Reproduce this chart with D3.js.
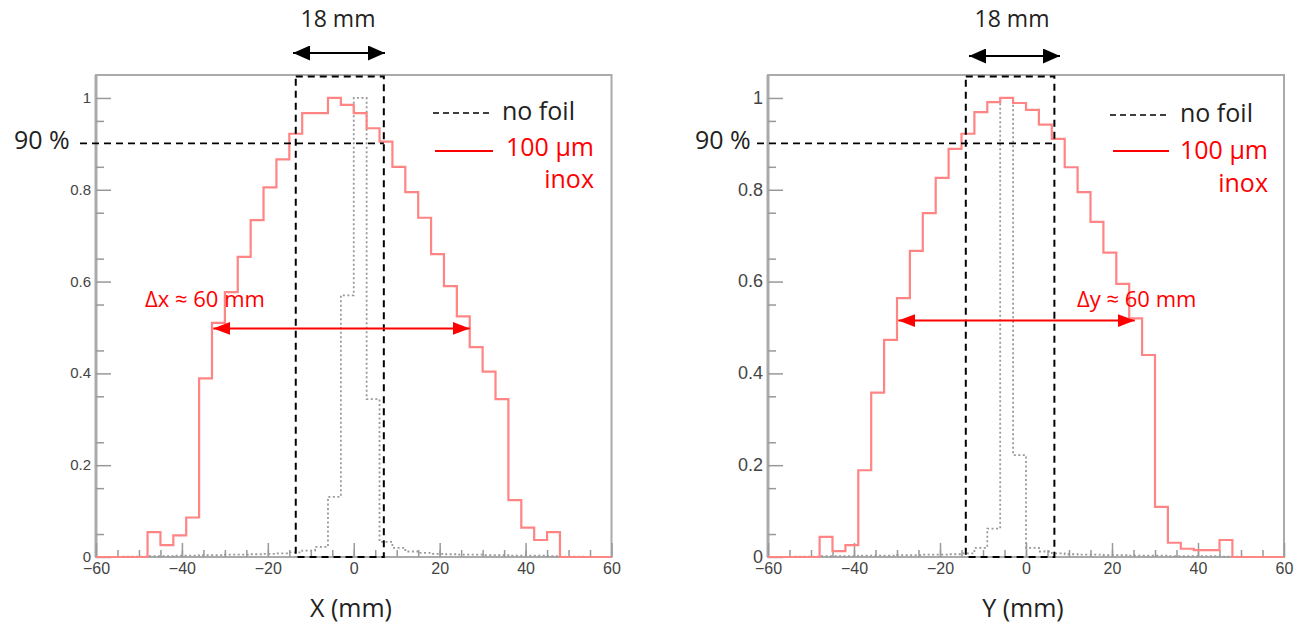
<!DOCTYPE html>
<html><head><meta charset="utf-8">
<script src="https://cdn.jsdelivr.net/npm/d3@7"></script>
<style>body{margin:0;background:#fff}</style>
</head><body>
<svg id="c" width="1299" height="632" xmlns="http://www.w3.org/2000/svg"></svg>
<script>
// ---- data ----
const binEdges = [-60,-57,-54,-51,-48,-45,-42,-39,-36,-33,-30,-27,-24,-21,-18,-15,-12,-9,-6,-3,
                  0,3,6,9,12,15,18,21,24,27,30,33,36,39,42,45,48,51,54,57];
const lastEdge = 60;
const redX = [0,0,0,0,0.054,0.026,0.047,0.086,0.389,0.51,0.577,0.654,0.734,0.805,0.866,0.922,0.967,0.967,1.0,0.985,
              0.967,0.934,0.905,0.85,0.795,0.739,0.66,0.59,0.524,0.457,0.404,0.344,0.124,0.064,0.037,0.054,0,0,0,0];
const noFoilX = [0,0,0.001,0.001,0.002,0.002,0.003,0.003,0.004,0.004,0.005,0.005,0.006,0.007,0.008,0.01,0.014,0.022,0.131,0.57,
                 1.0,0.344,0.033,0.02,0.012,0.009,0.007,0.006,0.005,0.005,0.004,0.004,0.003,0.003,0.003,0.002,0.001,0.001,0,0];
const redY = [0,0,0,0,0.044,0.013,0.026,0.189,0.358,0.473,0.564,0.667,0.749,0.826,0.889,0.922,0.969,0.991,1.0,0.989,
              0.974,0.942,0.911,0.849,0.795,0.73,0.663,0.595,0.52,0.44,0.109,0.031,0.018,0.015,0.015,0.037,0,0,0,0];
const noFoilY = [0,0,0.001,0.001,0.002,0.002,0.002,0.003,0.003,0.003,0.004,0.004,0.005,0.005,0.006,0.008,0.02,0.062,1.0,0.222,
                 0.02,0.012,0.008,0.006,0.005,0.005,0.004,0.004,0.003,0.003,0.003,0.002,0.002,0.002,0.002,0.001,0.001,0,0,0];
const xTicks = [-60,-40,-20,0,20,40,60];
const yTicks = [0,0.2,0.4,0.6,0.8,1];
const level90 = 0.901;

// ---- layout ----
const panels = [
  {x0:96, x1:611.5, red:redX, gray:noFoilX, label:"X (mm)", labelX:351, delta:"Δx ≈ 60 mm", deltaX:145,
   box:[-13.5,7], arrowY:0.498, arrowFrom:-32.7, arrowTo:27.0, topArrow:[293,385], topArrowY:53, topTextX:338,
   pctX:14, lineStartPx:80, yTickSize:15,
   leg:{dash:[433,493,113], noFoilX:502, noFoilY:120, red:[435,493,151], redTextX:594, redTextY:156, inoxY:188}},
  {x0:768, x1:1284, red:redY, gray:noFoilY, label:"Y (mm)", labelX:1023, delta:"Δy ≈ 60 mm", deltaX:1077,
   box:[-14,6.6], arrowY:0.515, arrowFrom:-29.7, arrowTo:25.3, topArrow:[969,1060], topArrowY:56, topTextX:1012,
   pctX:695, lineStartPx:757, yTickSize:18,
   leg:{dash:[1110,1170,115], noFoilX:1180, noFoilY:122, red:[1113,1169,151], redTextX:1268, redTextY:159, inoxY:192}}
];
const yTop = 75, yBot = 557;
const y = d3.scaleLinear().domain([0,1.05]).range([yBot, yTop]);
const svg = d3.select("#c");
const txtFont = "'Open Sans', sans-serif";
const tickFont = "'Liberation Sans', Arial, sans-serif";

const defs = svg.append("defs");
function marker(id, color, len, h){
  defs.append("marker").attr("id",id).attr("markerUnits","userSpaceOnUse")
    .attr("markerWidth",len).attr("markerHeight",h).attr("refX",len).attr("refY",h/2)
    .attr("orient","auto-start-reverse")
    .append("path").attr("d",`M0,0L${len},${h/2}L0,${h}Z`).attr("fill",color);
}
marker("ab","#000",17,15);
marker("ar","#ff0000",17,13);

panels.forEach(p => {
  const x = d3.scaleLinear().domain([-60,60]).range([p.x0,p.x1]);
  const g = svg.append("g");

  // frame
  g.append("rect").attr("x",p.x0).attr("y",yTop).attr("width",p.x1-p.x0).attr("height",yBot-yTop)
    .attr("fill","none").attr("stroke","#aaa").attr("stroke-width",2);
  g.append("line").attr("x1",p.x0).attr("x2",p.x0).attr("y1",yTop).attr("y2",yBot)
    .attr("stroke","#aaa").attr("stroke-width",3);

  // axes
  const ax = g.append("g").attr("transform",`translate(0,${yBot})`)
    .call(d3.axisBottom(x).tickValues(xTicks).tickSizeInner(-14).tickSizeOuter(0).tickPadding(6).tickFormat(d3.format("d")));
  const axm = g.append("g").attr("transform",`translate(0,${yBot})`)
    .call(d3.axisBottom(x).tickValues(d3.range(-55,60,5)).tickSizeInner(-7).tickSizeOuter(0).tickFormat(""));
  const ay = g.append("g").attr("transform",`translate(${p.x0},0)`)
    .call(d3.axisLeft(y).tickValues(yTicks).tickSizeInner(-15).tickSizeOuter(0).tickPadding(5).tickFormat(d3.format("~g")));
  const aym = g.append("g").attr("transform",`translate(${p.x0},0)`)
    .call(d3.axisLeft(y).tickValues(d3.range(0.05,1.05,0.1)).tickSizeInner(-8).tickSizeOuter(0).tickFormat(""));
  [ax,axm,ay,aym].forEach(a => {
    a.select(".domain").remove();
    a.selectAll("line").attr("stroke","#999").attr("stroke-width",1.5);
    a.attr("font-family",tickFont).attr("font-size",16);
    a.selectAll("text").style("font-family",tickFont).style("font-size","16px").attr("fill","#444");
  });
  ay.selectAll("text").attr("dy","0.3em").style("font-size",p.yTickSize+"px");

  // histograms
  const line = d3.line().x(d=>x(d[0])).y(d=>y(d[1])).curve(d3.curveStepAfter);
  const pts = vals => binEdges.map((e,i)=>[e, vals[i]]).concat([[lastEdge, vals[vals.length-1]]]);
  g.append("path").attr("d", line(pts(p.gray))).attr("fill","none").attr("stroke","#999")
    .attr("stroke-width",1.8).attr("stroke-dasharray","2,2.5");
  g.append("path").attr("d", line(pts(p.red))).attr("fill","none").attr("stroke","#ff8585")
    .attr("stroke-width",2.2);

  // dashed box & 90% line
  g.append("rect").attr("x",x(p.box[0])).attr("y",y(1.047)).attr("width",x(p.box[1])-x(p.box[0]))
    .attr("height",y(0)-y(1.047)).attr("fill","none").attr("stroke","#000").attr("stroke-width",2)
    .attr("stroke-dasharray","7,5");
  g.append("line").attr("x1",p.lineStartPx).attr("x2",x(p.box[1])).attr("y1",y(level90)).attr("y2",y(level90))
    .attr("stroke","#000").attr("stroke-width",1.6).attr("stroke-dasharray","7,5");
  g.append("text").attr("x",p.pctX).attr("y",149).attr("font-family",txtFont).attr("font-size",25)
    .attr("fill","#222").text("90 %");

  // top arrow + label
  g.append("line").attr("x1",p.topArrow[0]).attr("x2",p.topArrow[1]).attr("y1",p.topArrowY).attr("y2",p.topArrowY)
    .attr("stroke","#000").attr("stroke-width",2).attr("marker-start","url(#ab)").attr("marker-end","url(#ab)");
  g.append("text").attr("x",p.topTextX).attr("y",27).attr("text-anchor","middle").attr("font-family",txtFont)
    .attr("font-size",23).attr("fill","#222").text("18 mm");

  // delta arrow
  g.append("line").attr("x1",x(p.arrowFrom)).attr("x2",x(p.arrowTo)).attr("y1",y(p.arrowY)).attr("y2",y(p.arrowY))
    .attr("stroke","#ff0000").attr("stroke-width",2).attr("marker-start","url(#ar)").attr("marker-end","url(#ar)");
  g.append("text").attr("x",p.deltaX).attr("y",307).attr("font-family",txtFont).attr("font-size",22)
    .attr("fill","#ff0000").text(p.delta);

  // legend
  const L = p.leg;
  g.append("line").attr("x1",L.dash[0]).attr("x2",L.dash[1]).attr("y1",L.dash[2]).attr("y2",L.dash[2])
    .attr("stroke","#000").attr("stroke-width",1.6).attr("stroke-dasharray","6,4");
  g.append("text").attr("x",L.noFoilX).attr("y",L.noFoilY).attr("font-family",txtFont).attr("font-size",25)
    .attr("fill","#222").text("no foil");
  g.append("line").attr("x1",L.red[0]).attr("x2",L.red[1]).attr("y1",L.red[2]).attr("y2",L.red[2])
    .attr("stroke","#ff0000").attr("stroke-width",2);
  g.append("text").attr("x",L.redTextX).attr("y",L.redTextY).attr("text-anchor","end").attr("font-family",txtFont)
    .attr("font-size",25).attr("fill","#ff0000").text("100 µm");
  g.append("text").attr("x",L.redTextX).attr("y",L.inoxY).attr("text-anchor","end").attr("font-family",txtFont)
    .attr("font-size",25).attr("fill","#ff0000").text("inox");

  // axis title
  g.append("text").attr("x",p.labelX).attr("y",617).attr("text-anchor","middle").attr("font-family",txtFont)
    .attr("font-size",25).attr("fill","#222").text(p.label);
});
</script>
</body></html>
